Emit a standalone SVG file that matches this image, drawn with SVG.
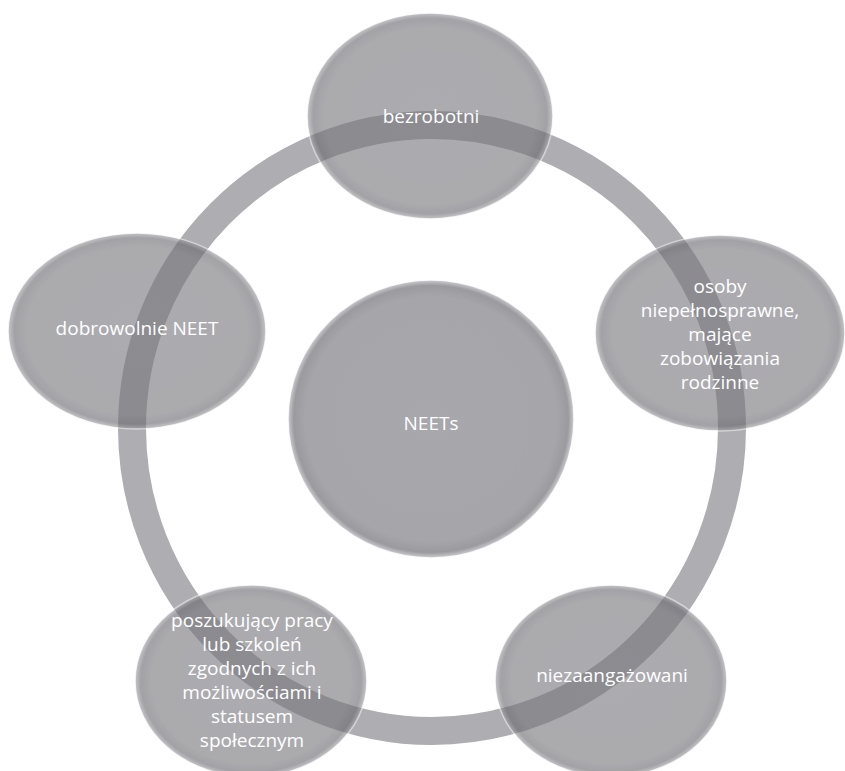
<svg xmlns="http://www.w3.org/2000/svg" width="845" height="771" viewBox="0 0 845 771">
  <defs>
    <radialGradient id="ballFill" cx="50%" cy="50%" r="50%">
      <stop offset="0" stop-color="#76767c"/>
      <stop offset="0.86" stop-color="#74747a"/>
      <stop offset="0.95" stop-color="#66666c"/>
      <stop offset="1" stop-color="#a0a0a6"/>
    </radialGradient>
    <radialGradient id="centerFill" cx="50%" cy="50%" r="50%">
      <stop offset="0" stop-color="#a7a7ac"/>
      <stop offset="0.88" stop-color="#a5a5aa"/>
      <stop offset="0.96" stop-color="#9a9a9f"/>
      <stop offset="1" stop-color="#cdcdd1"/>
    </radialGradient>
  </defs>
  <style>
    .ball { fill: url(#ballFill); opacity: 0.6; stroke: #ffffff; stroke-opacity: 0.8; stroke-width: 1.5; }
    .core { fill: url(#centerFill); stroke: #ffffff; stroke-opacity: 0.8; stroke-width: 1.5; }
    .lbl { font-family: "Open Sans", "Noto Sans", sans-serif; font-size: 19px; fill: #ffffff; text-anchor: middle; dominant-baseline: central; }
    .ring { fill: none; stroke: #aeaeb2; stroke-width: 28; }
  </style>
  <rect width="845" height="771" fill="#ffffff"/>
  <g id="connectors">
    <ellipse class="ring" cx="432" cy="428" rx="300" ry="303"/>
  </g>
  <g id="node-neets">
    <ellipse class="core" cx="431" cy="419" rx="143" ry="139"/>
    <text class="lbl" x="431" y="423">NEETs</text>
  </g>
  <g id="node-bezrobotni">
    <ellipse class="ball" cx="430" cy="116" rx="123" ry="103"/>
    <text class="lbl" x="431" y="116">bezrobotni</text>
  </g>
  <g id="node-osoby">
    <ellipse class="ball" cx="720" cy="333" rx="125" ry="98"/>
    <text class="lbl" x="720" y="286">osoby</text>
    <text class="lbl" x="720" y="310">niepełnosprawne,</text>
    <text class="lbl" x="720" y="334">mające</text>
    <text class="lbl" x="720" y="358">zobowiązania</text>
    <text class="lbl" x="720" y="382">rodzinne</text>
  </g>
  <g id="node-niezaangazowani">
    <ellipse class="ball" cx="611" cy="681" rx="116" ry="96"/>
    <text class="lbl" x="612" y="675">niezaangażowani</text>
  </g>
  <g id="node-poszukujacy">
    <ellipse class="ball" cx="251" cy="681" rx="116" ry="96"/>
    <text class="lbl" x="252" y="620">poszukujący pracy</text>
    <text class="lbl" x="252" y="644">lub szkoleń</text>
    <text class="lbl" x="252" y="668">zgodnych z ich</text>
    <text class="lbl" x="252" y="692">możliwościami i</text>
    <text class="lbl" x="252" y="716">statusem</text>
    <text class="lbl" x="252" y="740">społecznym</text>
  </g>
  <g id="node-dobrowolnie">
    <ellipse class="ball" cx="137" cy="331" rx="129" ry="98"/>
    <text class="lbl" x="137" y="328">dobrowolnie NEET</text>
  </g>
</svg>
